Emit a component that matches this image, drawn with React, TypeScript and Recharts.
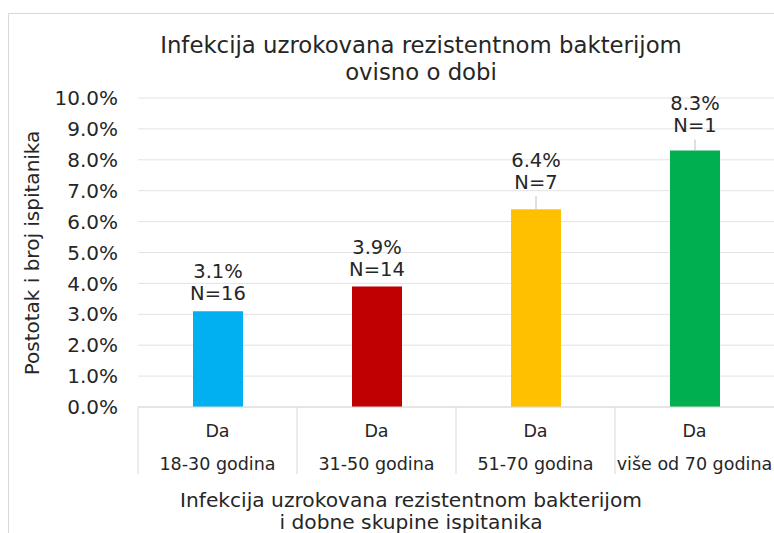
import React from "react";
import { BarChart, Bar, XAxis, YAxis, CartesianGrid, LabelList, Cell } from "recharts";

const categories = ["18-30 godina", "31-50 godina", "51-70 godina", "više od 70 godina"];
const answers = ["Da", "Da", "Da", "Da"];
const percents = [3.1, 3.9, 6.4, 8.3];
const counts = [16, 14, 7, 1];
const colors = ["#00B0F0", "#C00000", "#FFC000", "#00B050"];
const yTicks = [0, 1, 2, 3, 4, 5, 6, 7, 8, 9, 10];

const data = categories.map((name, i) => ({
    name,
    answer: answers[i],
    value: percents[i],
    n: counts[i],
}));

const FONT = "'DejaVu Sans', Verdana, sans-serif";
const TEXT = "#262626";
const W = 774;
const H = 533;
const PLOT_LEFT = 138;
const BAND = (W - PLOT_LEFT) / categories.length;
// Excel labels were nudged by hand, so lift each one a bit differently
const LABEL_LIFT = [18, 17, 27, 25];

function CategoryTick(props: any) {
    const { x, y, payload, index } = props;
    const row = data[index] ?? data.find((d) => d.name === payload.value);
    const left = x - BAND / 2;
    return (
        <g>
            <line x1={left} y1={y} x2={left} y2={y + 67} stroke="#d9d9d9" strokeWidth={1} />
            <text x={x} y={y + 24} textAnchor="middle" dominantBaseline="central" fontSize={17.5} fill={TEXT} fontFamily={FONT}>
                {row ? row.answer : ""}
            </text>
            <text x={x} y={y + 57} textAnchor="middle" dominantBaseline="central" fontSize={17.5} fill={TEXT} fontFamily={FONT}>
                {payload.value}
            </text>
        </g>
    );
}

function BarLabel(props: any) {
    const { x, y, width, index } = props;
    const cx = x + width / 2;
    const lift = LABEL_LIFT[index] ?? 18;
    const row = data[index];
    return (
        <g>
            {lift > 22 && (
                <line x1={cx} y1={y - (lift - 14)} x2={cx} y2={y} stroke="#bfbfbf" strokeWidth={1} />
            )}
            <text x={cx} y={y - lift - 22} textAnchor="middle" dominantBaseline="central" fontSize={19.5} fill={TEXT} fontFamily={FONT}>
                {row.value.toFixed(1)}%
            </text>
            <text x={cx} y={y - lift} textAnchor="middle" dominantBaseline="central" fontSize={19.5} fill={TEXT} fontFamily={FONT}>
                N={row.n}
            </text>
        </g>
    );
}

export default function App() {
    return (
        <div style={{ position: "absolute", left: 0, top: 0, width: W, height: H, overflow: "hidden", background: "#fff" }}>
            <div
                style={{
                    position: "absolute",
                    left: 8,
                    top: 13,
                    width: 900,
                    height: 700,
                    border: "1px solid #d9d9d9",
                    boxSizing: "border-box",
                }}
            />
            <div style={{ position: "absolute", left: 0, top: 0 }}>
                <BarChart width={W} height={H} data={data} margin={{ top: 98, right: 0, bottom: 56, left: 0 }}>
                    <CartesianGrid vertical={false} stroke="#e3e3e3" />
                    <XAxis
                        dataKey="name"
                        interval={0}
                        height={70}
                        tickSize={0}
                        tickMargin={0}
                        tickLine={false}
                        axisLine={{ stroke: "#d9d9d9" }}
                        tick={<CategoryTick />}
                    />
                    <YAxis
                        width={PLOT_LEFT}
                        domain={[0, 10]}
                        ticks={yTicks}
                        interval={0}
                        axisLine={false}
                        tickLine={false}
                        tickMargin={20}
                        tickSize={0}
                        tickFormatter={(v: number) => `${v.toFixed(1)}%`}
                        tick={{ fontSize: 20, fill: TEXT, fontFamily: FONT }}
                    />
                    <Bar dataKey="value" barSize={50} isAnimationActive={false}>
                        {data.map((d, i) => (
                            <Cell key={d.name} fill={colors[i]} />
                        ))}
                        <LabelList dataKey="value" content={<BarLabel />} />
                    </Bar>
                </BarChart>
            </div>
            <svg width={W} height={H} style={{ position: "absolute", left: 0, top: 0, pointerEvents: "none" }}>
                <g fontFamily={FONT} fill={TEXT} textAnchor="middle">
                    <text x={421} y={45} fontSize={22.8} dominantBaseline="central">
                        Infekcija uzrokovana rezistentnom bakterijom
                    </text>
                    <text x={421} y={72} fontSize={22.8} dominantBaseline="central">
                        ovisno o dobi
                    </text>
                    <text x={411} y={500} fontSize={20.2} dominantBaseline="central">
                        Infekcija uzrokovana rezistentnom bakterijom
                    </text>
                    <text x={411} y={522} fontSize={20.2} dominantBaseline="central">
                        i dobne skupine ispitanika
                    </text>
                    <text x={32} y={253} fontSize={20} dominantBaseline="central" transform="rotate(-90 32 253)">
                        Postotak i broj ispitanika
                    </text>
                </g>
            </svg>
        </div>
    );
}
